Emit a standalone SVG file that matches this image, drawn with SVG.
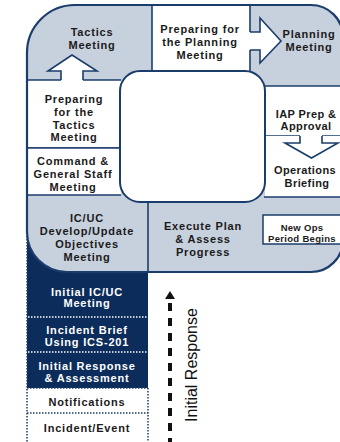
<svg xmlns="http://www.w3.org/2000/svg" width="340" height="442" viewBox="0 0 340 442">
<style>
.t{font-family:"Liberation Sans",Arial,sans-serif;font-weight:bold;font-size:11px;letter-spacing:0.8px;fill:#1a1a1a;text-anchor:middle}
.w{fill:#ffffff}
.s{font-size:9.5px;letter-spacing:0.3px}
.n{letter-spacing:0.4px}
.ln{stroke:#1b3d6b;stroke-width:1.6;fill:none}
.cellw{fill:#ffffff}
.dot{stroke:#1b3d6b;stroke-width:1.5;stroke-dasharray:1.5 1.5;fill:none}
.dotw{stroke:#ffffff;stroke-width:1.3;stroke-dasharray:1.5 1.5;fill:none}
.arr{fill:#ffffff;stroke:none}
.arl{fill:none;stroke:#1b3d6b;stroke-width:1.6;stroke-linejoin:miter}
</style>
<defs>
<clipPath id="frame"><path d="M27,232 L27,53 A48,48 0 0 1 75,5 L311,5 A32,32 0 0 1 343,37 L343,240 A32,32 0 0 1 311,272 L67,272 A40,40 0 0 1 27,232 Z"/></clipPath>
</defs>
<rect width="340" height="442" fill="#ffffff"/>
<rect x="27" y="230" width="121" height="158" fill="#0c2d5b"/>
<g clip-path="url(#frame)">
<rect x="0" y="0" width="345" height="280" fill="#c7d0dd"/>
</g>
<g id="prep-planning"><rect class="cellw" x="152" y="5" width="98" height="66"/>
<line class="ln" x1="152" y1="5" x2="152" y2="71"/><line class="ln" x1="250" y1="5" x2="250" y2="71"/>
<text class="t" x="200" y="33">Preparing for</text><text class="t" x="200" y="46">the Planning</text><text class="t" x="200" y="59">Meeting</text></g>
<g id="tactics"><text class="t" x="92" y="36">Tactics</text><text class="t" x="92" y="49">Meeting</text></g>
<g id="planning"><text class="t" x="309" y="38">Planning</text><text class="t" x="309" y="51">Meeting</text></g>
<g id="prep-tactics"><rect class="cellw" x="27" y="80" width="94" height="68"/>
<line class="ln" x1="27" y1="80" x2="121" y2="80"/><line class="ln" x1="27" y1="148" x2="121" y2="148"/>
<text class="t" x="74" y="103">Preparing</text><text class="t" x="74" y="116">for the</text><text class="t" x="74" y="128.5">Tactics</text><text class="t" x="74" y="141">Meeting</text></g>
<g id="command"><rect class="cellw" x="27" y="148" width="94" height="47"/>
<line class="ln" x1="27" y1="148" x2="121" y2="148"/><line class="ln" x1="27" y1="195" x2="121" y2="195"/>
<text class="t" x="73" y="165">Command &amp;</text><text class="t" x="73" y="178">General Staff</text><text class="t" x="73" y="191">Meeting</text></g>
<g id="iap"><rect class="cellw" x="265" y="86" width="78" height="50"/>
<line class="ln" x1="264" y1="86" x2="343" y2="86"/><line class="ln" x1="264" y1="136" x2="343" y2="136"/>
<text class="t n" x="306" y="118">IAP Prep &amp;</text><text class="t n" x="306" y="130">Approval</text></g>
<g id="ops"><rect class="cellw" x="265" y="136" width="78" height="61"/>
<line class="ln" x1="264" y1="197" x2="343" y2="197"/>
<text class="t n" x="305" y="174">Operations</text><text class="t n" x="307" y="187">Briefing</text></g>
<g id="center"><rect x="120" y="71" width="145" height="131" rx="20" fill="#ffffff" stroke="#1b3d6b" stroke-width="2"/></g>
<g id="icuc"><line class="ln" x1="148" y1="201" x2="148" y2="272"/>
<text class="t" x="87" y="222">IC/UC</text><text class="t" x="87" y="235">Develop/Update</text><text class="t" x="87" y="248">Objectives</text><text class="t" x="87" y="261">Meeting</text></g>
<g id="execute"><text class="t" x="203" y="230">Execute Plan</text><text class="t" x="203" y="243">&amp; Assess</text><text class="t" x="203" y="256">Progress</text></g>
<g id="new-ops"><rect x="263" y="215" width="84" height="29" fill="#ffffff" stroke="#1b3d6b" stroke-width="1.5"/>
<text class="t s" x="302" y="230.5">New Ops</text><text class="t s" x="302" y="241.5">Period Begins</text></g>
<path d="M27,232 L27,53 A48,48 0 0 1 75,5 L311,5 A32,32 0 0 1 343,37 L343,240 A32,32 0 0 1 311,272 L67,272 A40,40 0 0 1 27,232 Z" fill="none" stroke="#1b3d6b" stroke-width="2.2"/>
<g id="initial-icuc"><line class="dotw" x1="28" y1="317" x2="147" y2="317"/>
<text class="t w" x="87" y="296">Initial IC/UC</text><text class="t w" x="87" y="307">Meeting</text></g>
<g id="incident-brief"><line class="dotw" x1="28" y1="352" x2="147" y2="352"/>
<text class="t w" x="87" y="334">Incident Brief</text><text class="t w" x="87" y="346">Using ICS-201</text></g>
<g id="initial-response"><text class="t w" x="87" y="370">Initial Response</text><text class="t w" x="87" y="382">&amp; Assessment</text></g>
<g id="notifications"><line class="dot" x1="27" y1="388" x2="148" y2="388"/><line class="dot" x1="27" y1="413" x2="148" y2="413"/>
<text class="t" x="87" y="406">Notifications</text></g>
<g id="incident-event"><text class="t" x="87" y="432">Incident/Event</text></g>
<line class="dot" x1="27" y1="236" x2="27" y2="442"/>
<line class="dot" x1="148" y1="388" x2="148" y2="442"/>
<g id="connectors">
<polygon class="arr" points="61,83 61,71 48,71 72,55 97,71 83,71 83,83"/>
<polyline class="arl" points="61,80 61,71 48,71 72,55 97,71 83,71 83,80"/>
<polygon class="arr" points="247,32 260,32 260,18 281,41 260,63 260,50 247,50"/>
<polyline class="arl" points="250,32 260,32 260,18 281,41 260,63 260,50 250,50"/>
<polygon class="arr" points="300,133 300,143 285,143 311.5,158 338,143 322,143 322,133"/>
<polyline class="arl" points="300,136 300,143 285,143 311.5,158 338,143 322,143 322,136"/>
<polygon points="165,299 175,299 170,291" fill="#111111"/>
<line x1="170" y1="303" x2="170" y2="446" stroke="#111111" stroke-width="4" stroke-dasharray="8 7"/>
<text x="0" y="0" transform="translate(197,365) rotate(-90)" font-family="'Liberation Sans',Arial,sans-serif" font-size="16" fill="#111111" text-anchor="middle">Initial Response</text>
</g>
</svg>
